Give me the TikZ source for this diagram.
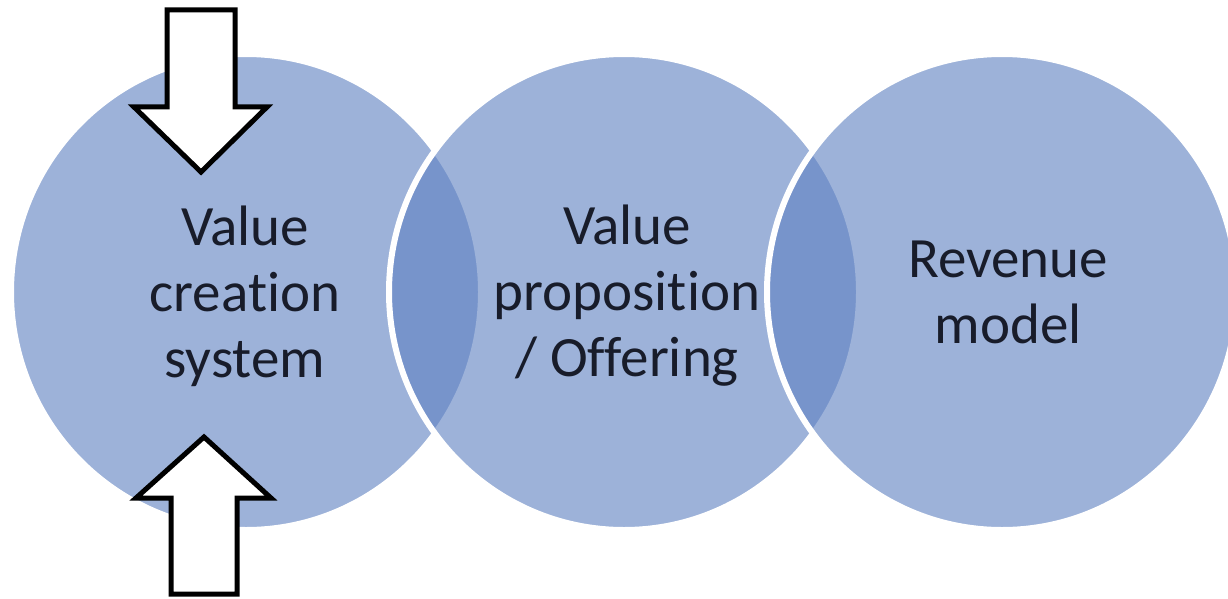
\documentclass[tikz,border=0pt]{standalone}
\usepackage{fontspec}
\setmainfont{Carlito}[Ligatures=NoCommon]
\usepackage{tikz}

\definecolor{vennblue}{RGB}{97,131,195}
\definecolor{inkblue}{RGB}{24,28,42}

\tikzset{
  venn/.style={fill=vennblue,fill opacity=0.62,draw=white,draw opacity=1,line width=6pt},
  blockarrow/.style={draw=black,fill=white,line width=5pt,line join=miter},
  venntext/.style={align=center,text=inkblue,font=\fontsize{57}{66}\selectfont}
}

\begin{document}
\begin{tikzpicture}[x=1pt,y=-1pt]
  \fill[white] (0,0) rectangle (1228,599);
  \useasboundingbox (0,0) rectangle (1228,599);
  % three overlapping circles
  \foreach \cx/\nm in {246/creation,624/offer,1002/revenue} {
    \coordinate (\nm) at (\cx,292);
    \draw[venn] (\nm) ellipse [x radius=235pt, y radius=238pt];
  }
  \node[venntext] (creationtext) at (245,296) {Value\\creation\\system};
  \node[venntext] (offertext) at (627,296) {Value\\proposition\\/ Offering};
  \node[venntext] (revenuetext) at (1008,292) {Revenue\\model};
  % block arrows onto the first circle
  \draw[blockarrow] (167,10) -- (235,10) -- (235,107) -- (267,107) -- (201,172)
    -- (134,107) -- (167,107) -- cycle;
  \draw[blockarrow] (171,594) -- (237,594) -- (237,498) -- (271,498) -- (204,437)
    -- (136,498) -- (171,498) -- cycle;
\end{tikzpicture}
\end{document}
